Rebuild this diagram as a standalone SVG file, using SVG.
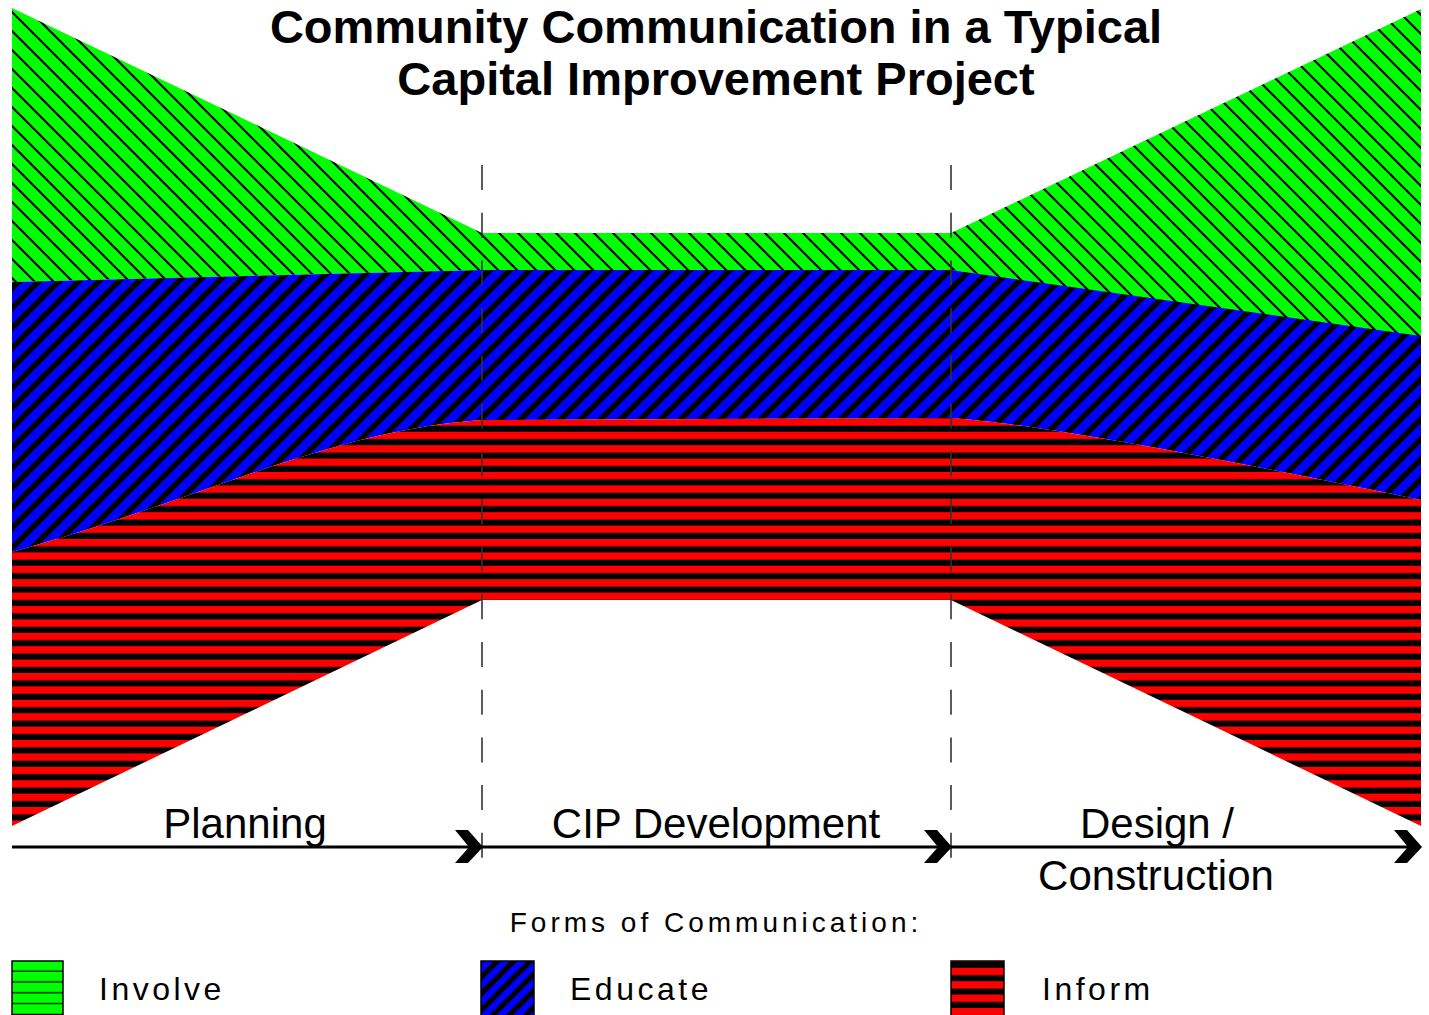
<svg xmlns="http://www.w3.org/2000/svg" width="1429" height="1015" viewBox="0 0 1429 1015">
<style>
.title{font-family:"Liberation Sans",Arial,sans-serif;font-weight:bold;font-size:47px;fill:#000;text-anchor:middle}
.phase{font-family:"Liberation Sans",Arial,sans-serif;font-size:42px;fill:#000;text-anchor:middle}
.leg{font-family:"Liberation Sans",Arial,sans-serif;font-size:32px;letter-spacing:3.5px;fill:#000}
.divider{stroke:#333;stroke-width:1.6;stroke-dasharray:25 22.7;fill:none}
.axis{stroke:#000;stroke-width:3;fill:none}
.swatch{stroke:#000;stroke-width:1.5}
</style>
<defs>
<pattern id="pInvolve" patternUnits="userSpaceOnUse" width="19" height="19">
<rect width="19" height="19" fill="#00ff00"/>
<path d="M-2,-2 L21,21 M-2,17 L2,21 M17,-2 L21,2" stroke="#000" stroke-width="2.2"/>
</pattern>
<pattern id="pEducate" patternUnits="userSpaceOnUse" width="20" height="20">
<rect width="20" height="20" fill="#0000ff"/>
<path d="M-2,22 L22,-2 M-2,2 L2,-2 M18,22 L22,18" stroke="#000" stroke-width="5.5"/>
</pattern>
<pattern id="pInform" patternUnits="userSpaceOnUse" width="13.4" height="13.4" y="3">
<rect width="13.4" height="13.4" fill="#ff0000"/>
<rect y="7.4" width="13.4" height="6" fill="#000"/>
</pattern>
<pattern id="pInvolveLeg" patternUnits="userSpaceOnUse" width="20" height="10.8" y="961">
<rect width="20" height="10.8" fill="#00ff00"/>
<rect y="9.6" width="20" height="2.2" fill="#000"/>
</pattern>
<pattern id="pEducateLeg" patternUnits="userSpaceOnUse" width="16.5" height="16.5" x="481" y="961">
<rect width="16.5" height="16.5" fill="#0000ff"/>
<path d="M-2,18.5 L18.5,-2 M-2,2 L2,-2 M14.5,18.5 L18.5,14.5" stroke="#000" stroke-width="5"/>
</pattern>
</defs>

<g id="title">
<text class="title" x="716" y="43">Community Communication in a Typical</text>
<text class="title" x="716" y="95">Capital Improvement Project</text>
</g>

<g id="involve-band">
<path d="M12,8 L482,233 L951,233 L1421,9 L1421,338 L951,270 L482,270 L12,282 Z" fill="url(#pInvolve)"/>
</g>
<g id="educate-band">
<path d="M12,282 L482,270 L951,270 L1421,336 L1421,500 C1250,465 1050,425 951,418 L482,420 C330,430 200,500 12,552 Z" fill="url(#pEducate)"/>
</g>
<g id="inform-band">
<path d="M12,552 C200,500 330,430 482,420 L951,418 C1050,425 1250,465 1421,500 L1421,826 L951,600 L482,600 L12,826 Z" fill="url(#pInform)"/>
</g>

<g id="connectors">
<line class="divider" x1="482" y1="165" x2="482" y2="860"/>
<line class="divider" x1="951" y1="165" x2="951" y2="860"/>
<line class="axis" x1="12" y1="847" x2="1414" y2="847"/>
<polygon points="455,830 468,830 483,847 468,863 455,863 469,847" fill="#000"/>
<polygon points="924,830 937,830 952,847 937,863 924,863 938,847" fill="#000"/>
<polygon points="1394,830 1407,830 1422,847 1407,863 1394,863 1408,847" fill="#000"/>
</g>

<g id="phase-planning"><text class="phase" x="245" y="838">Planning</text></g>
<g id="phase-cip"><text class="phase" x="716" y="838">CIP Development</text></g>
<g id="phase-design">
<text class="phase" x="1157" y="838">Design /</text>
<text class="phase" x="1156" y="890">Construction</text>
</g>

<g id="legend">
<text class="leg" x="716" y="932" text-anchor="middle" style="font-size:28px;letter-spacing:4px">Forms of Communication:</text>
<g id="legend-involve">
<rect class="swatch" x="12" y="961" width="51" height="60" fill="url(#pInvolveLeg)"/>
<text class="leg" x="99" y="1000">Involve</text>
</g>
<g id="legend-educate">
<rect class="swatch" x="481" y="961" width="53" height="60" fill="url(#pEducateLeg)"/>
<text class="leg" x="570" y="1000">Educate</text>
</g>
<g id="legend-inform">
<rect class="swatch" x="951" y="961" width="53" height="60" fill="url(#pInform)"/>
<text class="leg" x="1042" y="1000">Inform</text>
</g>
</g>
</svg>
